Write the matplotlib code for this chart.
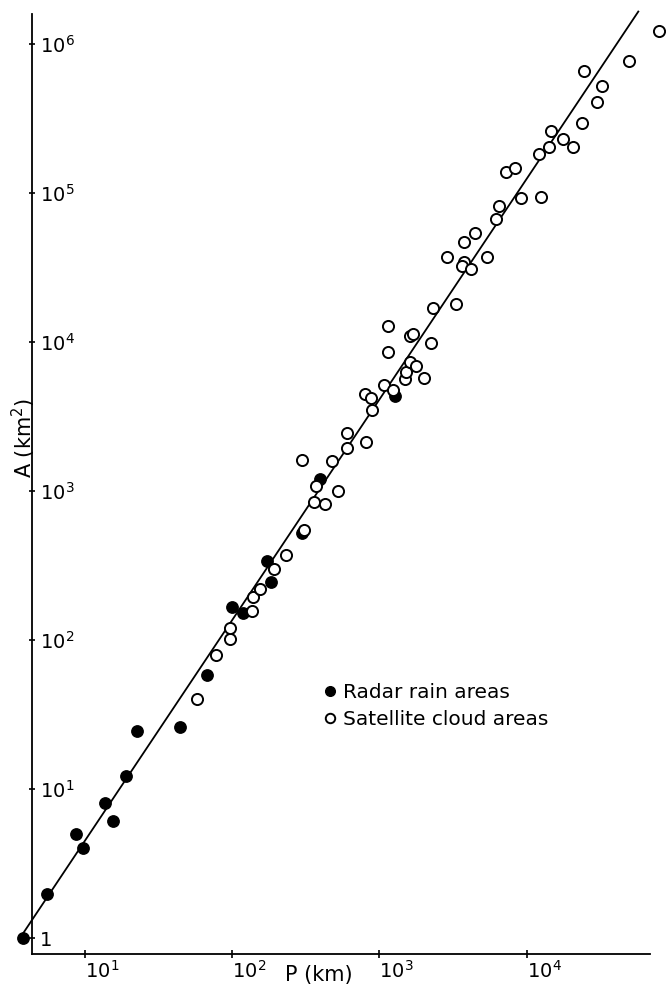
import matplotlib
matplotlib.use("Agg")
import matplotlib.pyplot as plt
from matplotlib.ticker import NullLocator

# ---- data ----
radar_P = [3.85, 5.6, 8.75, 9.8, 13.8, 15.7, 19.1, 22.6, 44.4, 67.3, 99.5, 119,
           183, 172, 296, 395, 1274]
radar_A = [1.0, 1.96, 5.0, 4.0, 8.0, 6.1, 12.2, 24.6, 26.2, 58.2, 167, 151,
           244, 341, 520, 1198, 4342]

sat_P = [57.6, 78, 96.9, 96.9, 137, 139, 155, 194, 232, 309, 360, 428, 371, 521,
         300, 474, 606, 606, 806, 798, 871, 893, 1080, 1241, 1489, 1506, 1611,
         1767, 2003, 2225, 1137, 1148, 1611, 1695, 2292, 3300, 2855, 3741, 3607,
         4150, 3741, 4467, 5320, 6166, 6460, 9100, 12380, 7210, 8300, 12050,
         14160, 14450, 17630, 20600, 23500, 29700, 32100, 24500, 49400, 79000]
sat_A = [40.2, 78.9, 101.5, 121, 157, 195, 219, 300, 372, 547, 848, 818, 1081,
         1000, 1615, 1597, 2462, 1935, 2143, 4477, 4190, 3497, 5145, 4762, 5620,
         6322, 7381, 6902, 5704, 9800, 8530, 12800, 10970, 11270, 16830, 17900,
         37000, 34600, 32500, 30900, 47100, 53700, 37000, 66600, 82200, 92100,
         93600, 137600, 146500, 182700, 204600, 260600, 229300, 202600, 296400,
         410000, 525000, 662000, 769000, 1.23e6]

fit_P = [3.77, 56900]
fit_A = [1.05, 1.65e6]

x_ticks = [10, 100, 1000, 10000]
x_ticklabels = ["$10^1$", "$10^2$", "$10^3$", "$10^4$"]
y_ticks = [1, 10, 100, 1000, 1e4, 1e5, 1e6]
y_ticklabels = ["1", "$10^1$", "$10^2$", "$10^3$", "$10^4$", "$10^5$", "$10^6$"]

plt.rcParams['font.family'] = ['DejaVu Sans']
plt.rcParams['mathtext.fontset'] = 'dejavusans'

W, H = 666, 985
fig = plt.figure(figsize=(W / 100, H / 100), dpi=100)
ax = fig.add_axes([32 / W, 1 - 954 / H, (650 - 32) / W, (954 - 14) / H])
ax.set_xscale('log')
ax.set_yscale('log')
ax.set_xlim(4.40, 68300)
ax.set_ylim(0.781, 1.589e6)

for s in ['top', 'right']:
    ax.spines[s].set_visible(False)
for s in ['left', 'bottom']:
    ax.spines[s].set_linewidth(1.3)

ax.plot(fit_P, fit_A, color='black', lw=1.3, clip_on=False, zorder=2)
l1, = ax.plot(radar_P, radar_A, 'o', color='black', ms=8.2, clip_on=False, zorder=3)
l2, = ax.plot(sat_P, sat_A, 'o', mfc='white', mec='black', mew=1.4, ms=8.0,
              clip_on=False, zorder=3)

ax.set_xticks(x_ticks, x_ticklabels, fontsize=14)
ax.set_yticks(y_ticks, y_ticklabels, fontsize=14)
ax.xaxis.set_minor_locator(NullLocator())
ax.yaxis.set_minor_locator(NullLocator())
ax.tick_params(axis='x', direction='inout', length=6, width=1.2, pad=1)
ax.tick_params(axis='y', direction='inout', length=5, width=1.2, pad=-8)
for lbl in ax.get_xticklabels():
    lbl.set_horizontalalignment('left')
for lbl in ax.get_yticklabels():
    lbl.set_horizontalalignment('left')

fig.text(285 / W, 1 - 981 / H, "P (km)", fontsize=15, va='baseline', ha='left')
fig.text(24 / W, 1 - 438 / H, "A (km$^2$)", fontsize=15, rotation=90,
         ha='center', va='center')

ax.legend([l1, l2], ["Radar rain areas", "Satellite cloud areas"],
          loc='upper left', bbox_to_anchor=(324 / W, 1 - 683 / H),
          bbox_transform=fig.transFigure, frameon=False, markerscale=0.85,
          handlelength=0.55, handletextpad=0.4, labelspacing=0.4,
          fontsize=14.5, borderpad=0, borderaxespad=0)

fig.savefig("out.png", dpi=100)
